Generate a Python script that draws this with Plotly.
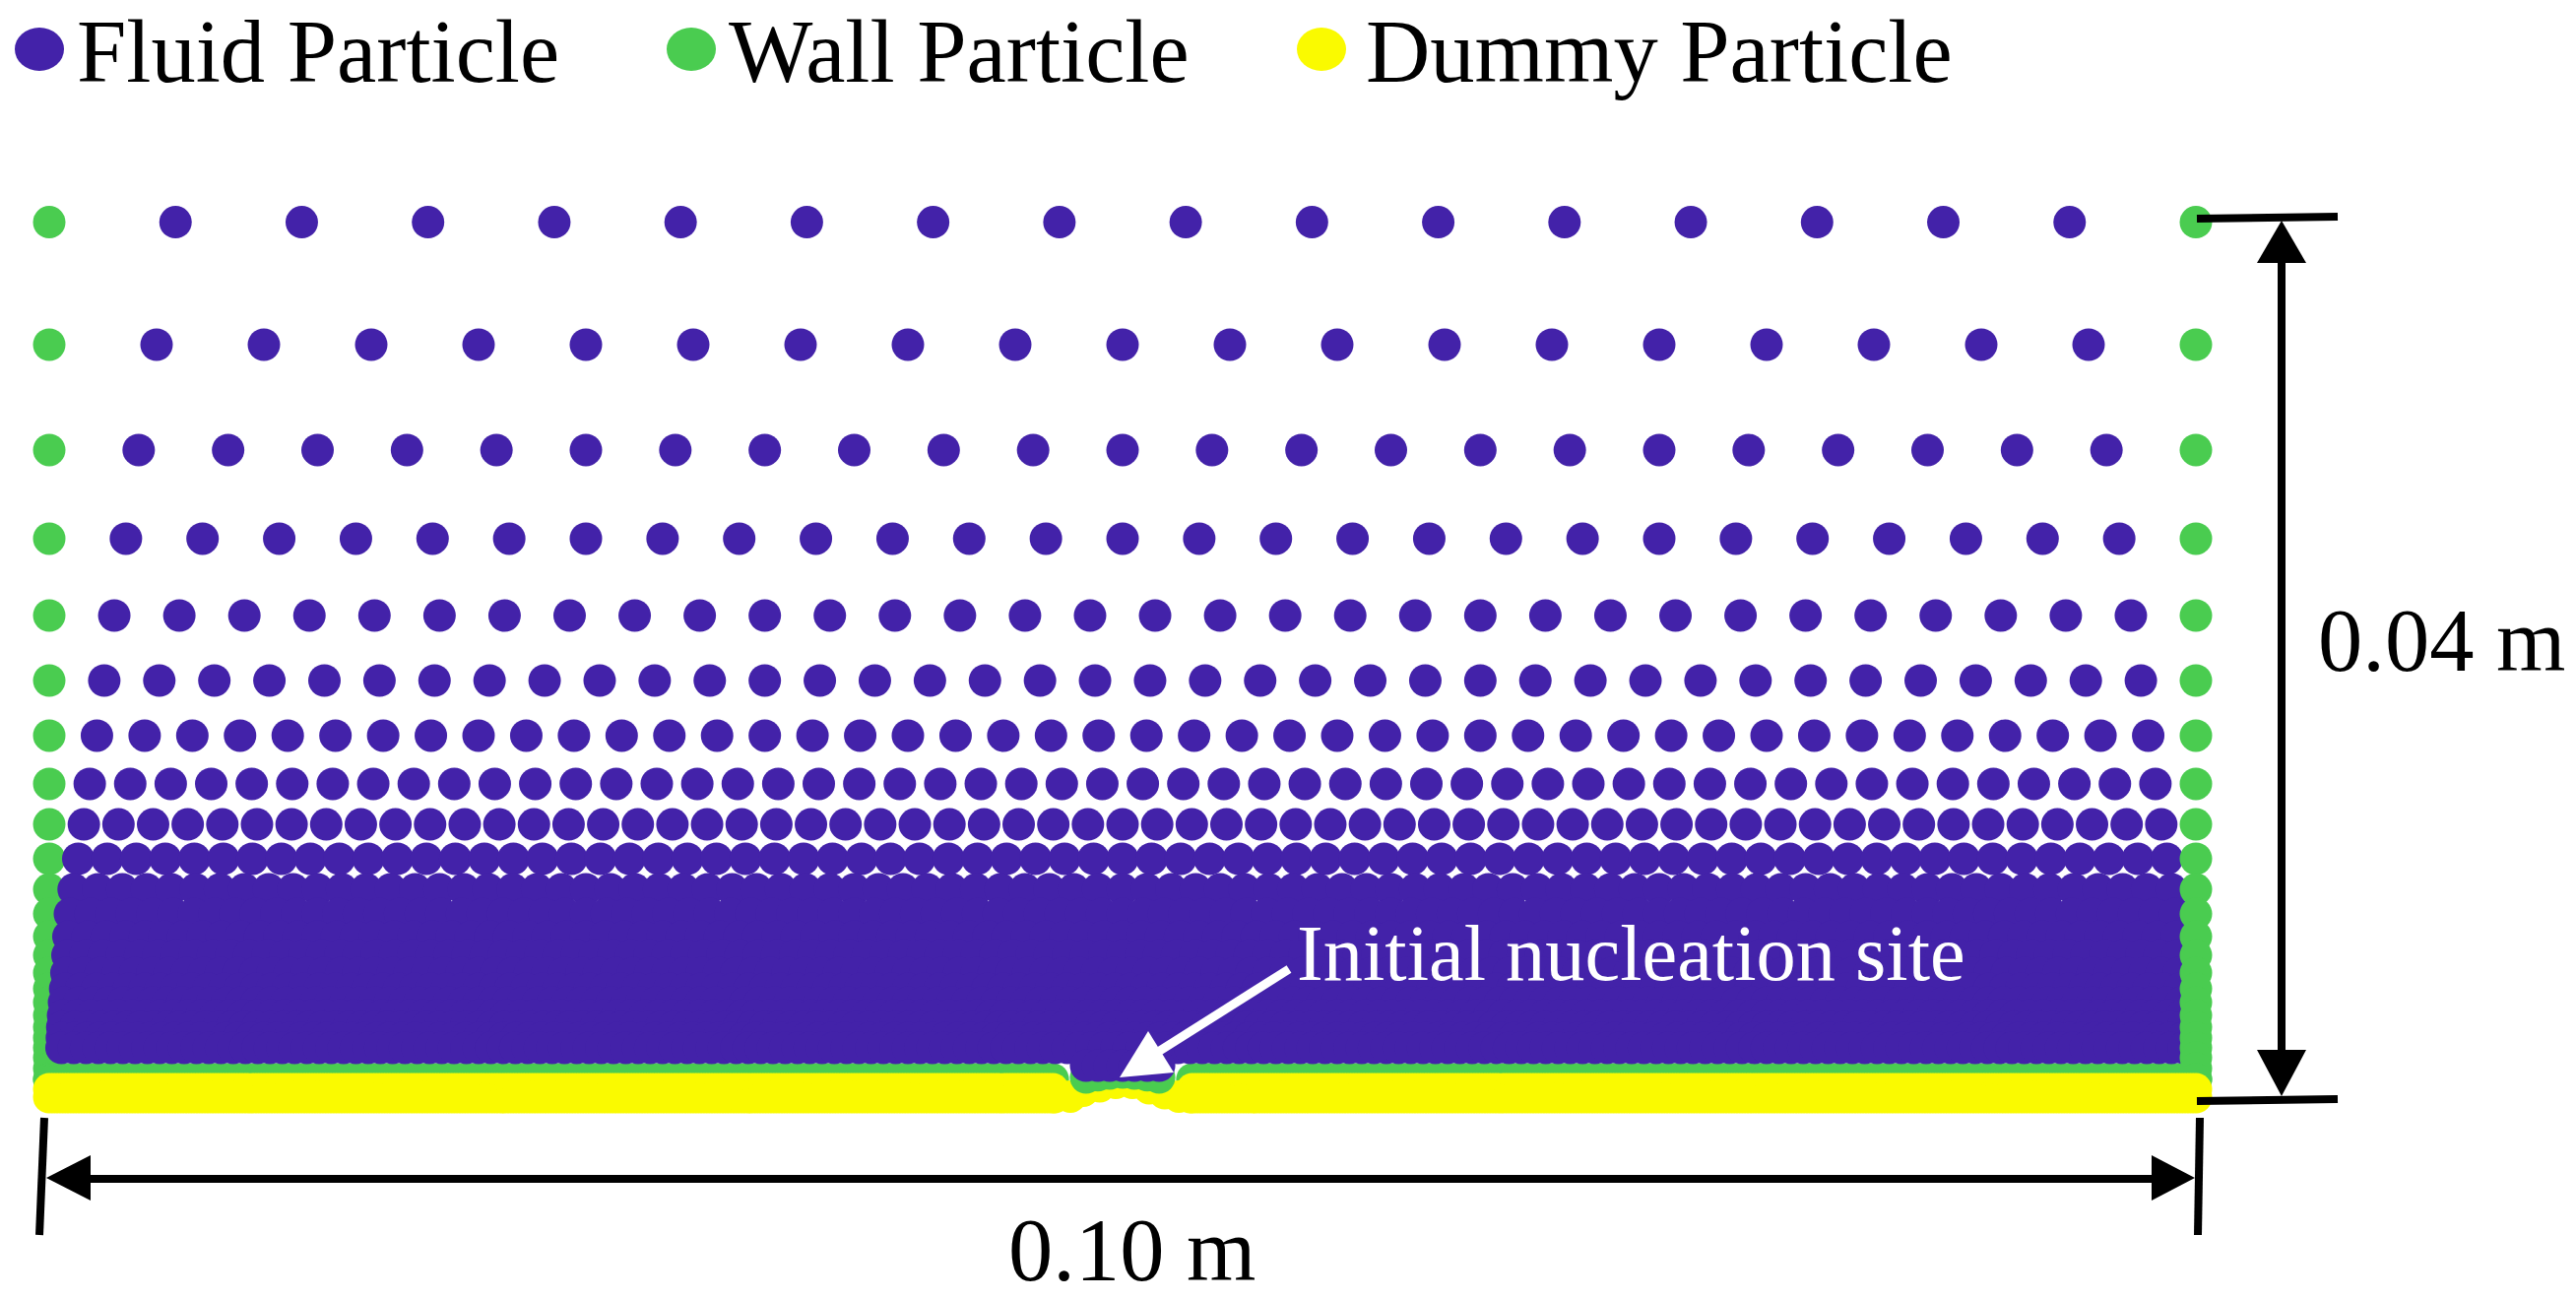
# particle layout of the nucleation domain, colours and text
import numpy as np
import plotly.graph_objects as go

W, H = 2616, 1320

# rows of the stretched grid: height above the base (m) and intervals across 0.10 m
fila_y = [0.03975, 0.03419, 0.02941, 0.02539, 0.02190, 0.01895, 0.01645, 0.01426,
          0.01242, 0.01086, 0.00947, 0.00836, 0.00733, 0.00648, 0.00568, 0.00496,
          0.00434, 0.00375, 0.00322, 0.00273, 0.00228]
fila_n = [17, 20, 24, 28, 33, 39, 45, 53, 62, 74, 88, 104, 112, 118, 125, 135,
          145, 155, 165, 170, 175]

# wall rows that only exist below the fluid block
pared_extra_y = [0.00183, 0.00134, 0.00085]

# base: green and yellow strips left and right of the site
base_verde_y = 0.00085
base_dummy_y = [0.00040, 0.00004]
base_n = 400
hueco_izq = 0.04683
hueco_der = 0.05317

# the bump under the nucleation site
bump_x = [0.04683, 0.04757, 0.04817, 0.04894, 0.04968, 0.05046, 0.05124, 0.05197,
          0.05262, 0.05316]
bump_y = [0.00004, 0.00007, 0.00034, 0.00054, 0.00069, 0.00069, 0.00045, 0.00022,
          0.00007, 0.00004]
sitio_x = [0.04830, 0.04885, 0.04940, 0.05000, 0.05055, 0.05115, 0.05170]
sitio_verde_y = [0.00094, 0.00104, 0.00112, 0.00116, 0.00112, 0.00104, 0.00094]
sitio_fluido_y = [0.00147, 0.00147, 0.00147, 0.00147, 0.00147, 0.00147, 0.00147]

leyenda = ["Fluid Particle", "Wall Particle", "Dummy Particle"]
COLOR_FLUIDO = "#4322A9"
COLOR_PARED = "#4ACC50"
COLOR_DUMMY = "#FAFA00"
TAM = 33


def px(x):
    return x / W


def py(y):
    return 1 - y / H


def puntos(x, y, color):
    return go.Scatter(
        x=x, y=y, mode="markers", showlegend=False, hoverinfo="skip",
        marker=dict(size=TAM, color=color, line=dict(width=0)),
    )


def linea(x0, y0, x1, y1, color="black", ancho=8):
    return dict(type="line", xref="paper", yref="paper", layer="above",
                x0=px(x0), y0=py(y0), x1=px(x1), y1=py(y1),
                line=dict(color=color, width=ancho))


def triangulo(puntos_px, color="black"):
    cam = "M " + " L ".join(f"{px(a):.5f} {py(b):.5f}" for a, b in puntos_px) + " Z"
    return dict(type="path", xref="paper", yref="paper", layer="above", path=cam,
                fillcolor=color, line=dict(width=0))


def elipse(cx, cy, color):
    return dict(type="circle", xref="paper", yref="paper", layer="above",
                x0=px(cx - 25), x1=px(cx + 25), y0=py(cy + 22), y1=py(cy - 22),
                fillcolor=color, line=dict(width=0))


def texto(x, y, s, tam=90.5, color="black", anchor="left"):
    return dict(xref="paper", yref="paper", x=px(x), y=py(y), text=s, showarrow=False,
                xanchor=anchor, yanchor="middle",
                font=dict(family="Liberation Serif", size=tam, color=color))


fig = go.Figure()

# left wall sits under the fluid, right wall over it
todas_y = fila_y + pared_extra_y
fig.add_trace(puntos([0.0] * len(todas_y), todas_y, COLOR_PARED))

# green strip at the base
xb = np.linspace(0, 0.10, base_n + 1)
xb = xb[(xb <= hueco_izq) | (xb >= hueco_der)]
fig.add_trace(puntos(xb, [base_verde_y] * len(xb), COLOR_PARED))

# fluid
fx, fy = [], []
for y, n in zip(fila_y, fila_n):
    xs = np.linspace(0, 0.10, n + 1)[1:-1]
    fx.extend(xs)
    fy.extend([y] * len(xs))
fig.add_trace(puntos(fx, fy, COLOR_FLUIDO))

fig.add_trace(puntos([0.10] * len(todas_y), todas_y, COLOR_PARED))

# dummy strip and the site on top of it
for yb in base_dummy_y:
    fig.add_trace(puntos(xb, [yb] * len(xb), COLOR_DUMMY))
fig.add_trace(puntos(bump_x, bump_y, COLOR_DUMMY))
fig.add_trace(puntos(sitio_x, sitio_verde_y, COLOR_PARED))
fig.add_trace(puntos(sitio_x, sitio_fluido_y, COLOR_FLUIDO))

formas = [
    elipse(40, 50, COLOR_FLUIDO),
    elipse(702, 50, COLOR_PARED),
    elipse(1342, 50, COLOR_DUMMY),
    # 0.10 m dimension
    linea(45, 1135, 40, 1254),
    linea(2234, 1135, 2232, 1254),
    linea(60, 1197, 2215, 1197),
    triangulo([(47, 1196), (92, 1173), (92, 1219)]),
    triangulo([(2229, 1196), (2185, 1173), (2185, 1219)]),
    # 0.04 m dimension
    linea(2231, 222, 2374, 220),
    linea(2231, 1118, 2374, 1116),
    linea(2317, 250, 2317, 1080),
    triangulo([(2317, 224), (2292, 267), (2342, 267)]),
    triangulo([(2317, 1113), (2292, 1066), (2342, 1066)]),
    # arrow to the site
    linea(1309, 984, 1165, 1075, color="white", ancho=9),
    triangulo([(1166, 1047), (1192, 1089), (1137, 1094)], color="white"),
]

notas = [
    texto(76, 52, leyenda[0]),
    texto(738, 52, leyenda[1]),
    texto(1385, 52, leyenda[2]),
    texto(2352, 650, "0.04 m"),
    texto(1149, 1269, "0.10 m", anchor="center"),
    texto(1315, 968, "Initial nucleation site", tam=80.4, color="white"),
]

fig.update_layout(
    width=W, height=H,
    margin=dict(l=0, r=0, t=0, b=0),
    paper_bgcolor="white", plot_bgcolor="white",
    xaxis=dict(visible=False, range=[-50 / 21800, 2566 / 21800], fixedrange=True),
    yaxis=dict(visible=False, range=[-205 / 22375, 1115 / 22375], fixedrange=True),
    shapes=formas,
    annotations=notas,
)

fig.write_html("out.html", config={"displayModeBar": False},
               post_script="document.body.style.margin='0';")
